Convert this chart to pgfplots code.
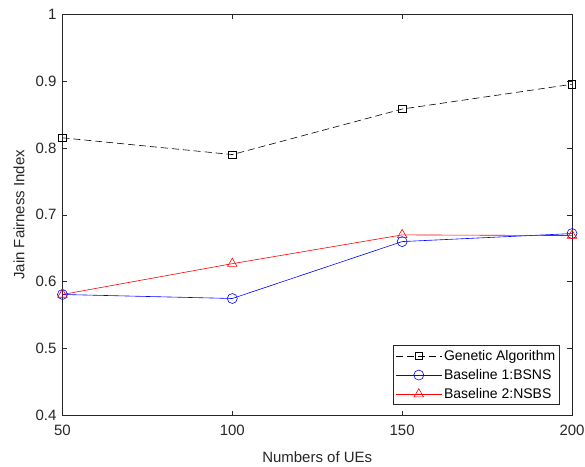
\documentclass[border=0pt]{standalone}
\usepackage{pgfplots}
\pgfplotsset{compat=1.18}
\usepackage{fontspec}
\setmainfont{Liberation Sans}
\definecolor{axgray}{rgb}{0.15,0.15,0.15}
\begin{document}
\begin{tikzpicture}
\begin{axis}[
  name=ax,
  scale only axis,
  width=510pt, height=402pt,
  xmin=50, xmax=200, ymin=0.4, ymax=1,
  xtick={50,100,150,200},
  ytick={0.4,0.5,0.6,0.7,0.8,0.9,1},
  yticklabel style={/pgf/number format/fixed,/pgf/number format/precision=1, xshift=-2.5pt},
  xticklabel style={yshift=-6pt},
  /pgf/number format/assume math mode=true,
  tick align=inside,
  tick pos=both,
  major tick length=5pt,
  axis line style={axgray, line width=0.6pt},
  tick style={axgray, line width=0.6pt},
  every tick label/.append style={font=\fontsize{15}{17}\selectfont, text=axgray},
  xlabel={Numbers of UEs},
  ylabel={Jain Fairness Index},
  label style={font=\fontsize{15}{17}\selectfont, text=axgray},
  xlabel style={at={(axis description cs:0.5,-0.104)}, anchor=center},
  ylabel style={at={(axis description cs:-0.0853,0.5)}, anchor=center},
  legend style={at={(0.9765,0.027)}, anchor=south east, font=\fontsize{14}{16}\selectfont, draw=axgray, line width=0.6pt, inner sep=2.5pt, row sep=3.5pt},
  legend cell align=left,
  legend image code/.code={\draw[mark repeat=2,mark phase=2] plot coordinates {(0pt,0pt) (23pt,0pt) (46pt,0pt)};},
]
\addplot[black, dash pattern=on 7pt off 4pt, line width=0.6pt, mark=square, mark size=3.7pt, mark options={solid}] coordinates {(50,0.815) (100,0.790) (150,0.858) (200,0.895)};
\addlegendentry{Genetic Algorithm}
\addplot[blue, line width=0.6pt, mark=o, mark size=5pt] coordinates {(50,0.581) (100,0.575) (150,0.660) (200,0.672)};
\addlegendentry{Baseline 1:BSNS}
\addplot[red, line width=0.6pt, mark=triangle, mark size=5.5pt] coordinates {(50,0.581) (100,0.627) (150,0.670) (200,0.669)};
\addlegendentry{Baseline 2:NSBS}
\end{axis}
\pgfresetboundingbox
\path ([shift={(-62.5pt,-51pt)}]ax.south west) rectangle ([shift={(13pt,14pt)}]ax.north east);
\end{tikzpicture}
\end{document}
